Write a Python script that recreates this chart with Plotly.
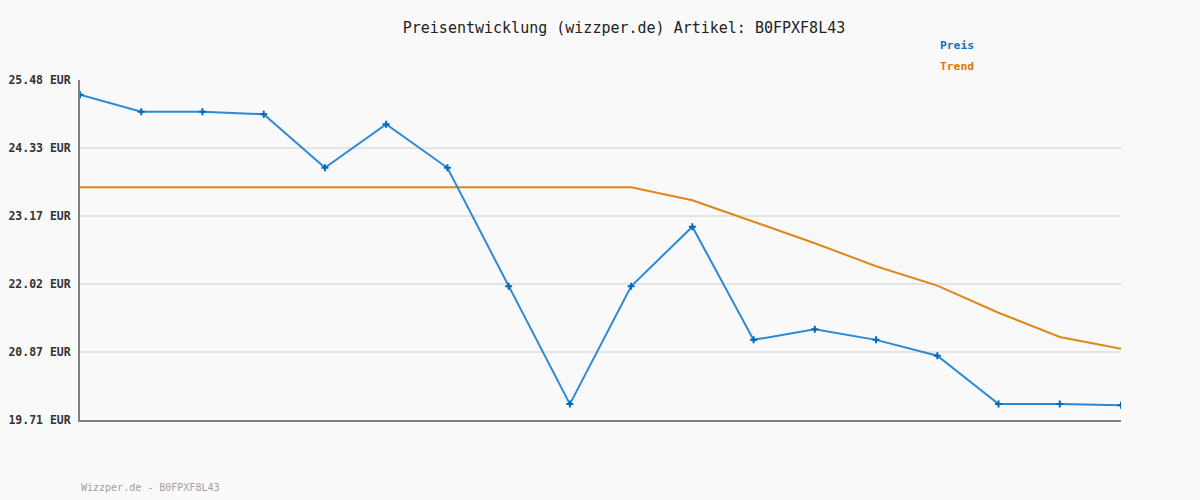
import plotly.graph_objects as go

x_idx = list(range(18))
preis = [25.23, 24.94, 24.94, 24.90, 23.99, 24.73, 23.99, 21.98, 19.98, 21.98,
         22.99, 21.07, 21.25, 21.07, 20.80, 19.98, 19.98, 19.96]
trend = [23.66, 23.66, 23.66, 23.66, 23.66, 23.66, 23.66, 23.66, 23.66, 23.66,
         23.44, 23.07, 22.71, 22.32, 21.99, 21.53, 21.12, 20.92]
y_ticks = [19.71, 20.87, 22.02, 23.17, 24.33, 25.48]
y_labels = ["19.71 EUR", "20.87 EUR", "22.02 EUR", "23.17 EUR", "24.33 EUR", "25.48 EUR"]

mono = "DejaVu Sans Mono, Liberation Mono, monospace"

fig = go.Figure()
fig.add_trace(go.Scatter(x=x_idx, y=trend, mode="lines", name="Trend",
                         line=dict(color="#e0871a", width=2)))
fig.add_trace(go.Scatter(x=x_idx, y=preis, mode="lines+markers", name="Preis",
                         line=dict(color="#2a8ad8", width=2),
                         marker=dict(symbol="cross-thin", size=5, color="#0068b8",
                                     line=dict(width=2, color="#0068b8"))))

pw, ph = 1200 - 80 - 79, 500 - 80 - 80


def px_x(v):
    return (v - 80) / pw


def px_y(v):
    return (500 - 80 - v) / ph


fig.update_layout(
    width=1200, height=500,
    paper_bgcolor="#f9f9f9", plot_bgcolor="#f9f9f9",
    margin=dict(l=80, r=79, t=80, b=80, autoexpand=False),
    showlegend=False,
    title=dict(text="Preisentwicklung (wizzper.de) Artikel: B0FPXF8L43",
               x=0.52, xanchor="center", y=0.944, yanchor="middle",
               font=dict(family=mono, size=15, color="#222")),
    xaxis=dict(range=[0, 17], showgrid=False, showticklabels=False, zeroline=False,
               showline=True, linecolor="#808080", linewidth=2, ticks="", automargin=False),
    yaxis=dict(range=[19.71, 25.48], tickvals=y_ticks, ticktext=y_labels,
               showgrid=True, gridcolor="#e4e4e4", gridwidth=2, zeroline=False,
               showline=True, linecolor="#808080", linewidth=2, ticks="",
               ticklabelstandoff=5, automargin=False,
               tickfont=dict(family=mono, size=11.5, color="#333", weight="bold")),
    annotations=[
        dict(text="<b>Preis</b>", x=px_x(938), y=px_y(46), xref="paper", yref="paper",
             showarrow=False, font=dict(family=mono, size=11.3, color="#0077cc"),
             xanchor="left", yanchor="middle"),
        dict(text="<b>Trend</b>", x=px_x(938), y=px_y(67), xref="paper", yref="paper",
             showarrow=False, font=dict(family=mono, size=11.3, color="#dd7700"),
             xanchor="left", yanchor="middle"),
        dict(text="Wizzper.de - B0FPXF8L43", x=px_x(79), y=px_y(487), xref="paper",
             yref="paper", showarrow=False, font=dict(family=mono, size=10, color="#a0a0a0"),
             xanchor="left", yanchor="middle"),
    ],
)

fig.write_html("out.html", config={"displayModeBar": False},
               post_script="document.body.style.margin='0';document.body.style.overflow='hidden';")
